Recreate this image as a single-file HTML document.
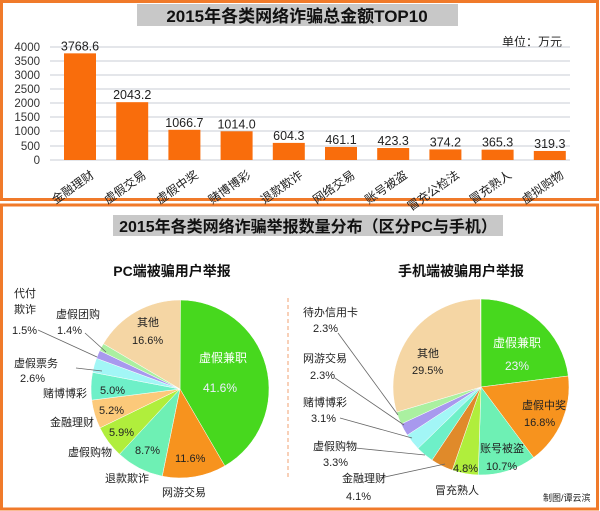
<!DOCTYPE html>
<html><head><meta charset="utf-8"><style>
body{margin:0;width:600px;height:511px;background:#fff;overflow:hidden}
svg{display:block}
text{font-family:"Liberation Sans","Noto Sans CJK SC",sans-serif}
</style></head><body>
<svg id="s" width="600" height="511" viewBox="0 0 600 511" xmlns="http://www.w3.org/2000/svg">
<rect x="1.5" y="1.5" width="596" height="198" fill="#fff" stroke="#f07a2a" stroke-width="3"/>
<rect x="1.5" y="205" width="596" height="304" fill="#fff" stroke="#f07a2a" stroke-width="3"/>
<!-- top chart -->
<rect x="137" y="4" width="321" height="22" fill="#c8c8c8"/>
<text x="297" y="22" font-size="17" font-weight="bold" text-anchor="middle" fill="#111">2015年各类网络诈骗总金额TOP10</text>
<text x="532" y="46" font-size="12" text-anchor="middle" fill="#222">单位：万元</text>
<g stroke="#c9ccd6" stroke-width="1">
<line x1="50" y1="47" x2="570" y2="47"/><line x1="50" y1="61" x2="570" y2="61"/><line x1="50" y1="75" x2="570" y2="75"/><line x1="50" y1="89" x2="570" y2="89"/><line x1="50" y1="103" x2="570" y2="103"/><line x1="50" y1="117" x2="570" y2="117"/><line x1="50" y1="131" x2="570" y2="131"/><line x1="50" y1="146" x2="570" y2="146"/><line x1="50" y1="160" x2="570" y2="160"/>
</g>
<g font-size="11.5" text-anchor="end" fill="#333">
<text x="40" y="51">4000</text><text x="40" y="65">3500</text><text x="40" y="79">3000</text><text x="40" y="93">2500</text><text x="40" y="107">2000</text><text x="40" y="121">1500</text><text x="40" y="135">1000</text><text x="40" y="150">500</text><text x="40" y="164">0</text>
</g>
<g id="bars" fill="#f96d0c"></g>
<g id="vals" font-size="12.5" text-anchor="middle" fill="#222"></g>
<g id="cats" font-size="12" text-anchor="end" fill="#222"></g>
<!-- bottom -->
<rect x="113" y="215" width="390" height="21" fill="#c8c8c8"/>
<text x="308" y="232" font-size="16" font-weight="bold" text-anchor="middle" fill="#111">2015年各类网络诈骗举报数量分布（区分PC与手机）</text>
<text x="172" y="276" font-size="14" font-weight="bold" text-anchor="middle" fill="#111">PC端被骗用户举报</text>
<text x="461" y="276" font-size="14" font-weight="bold" text-anchor="middle" fill="#111">手机端被骗用户举报</text>
<line x1="288" y1="298" x2="288" y2="480" stroke="#f0a070" stroke-dasharray="4,3"/>
<g id="pies"></g>
<g stroke="#666" stroke-width="0.8">
<line x1="38" y1="330" x2="97" y2="357"/><line x1="85" y1="333" x2="106" y2="352"/><line x1="76" y1="368" x2="102" y2="371"/>
<line x1="338" y1="333" x2="398" y2="415"/><line x1="335" y1="378" x2="404" y2="425"/><line x1="340" y1="418" x2="412" y2="438"/><line x1="355" y1="448" x2="425" y2="455"/><line x1="380" y1="478" x2="445" y2="464"/>
</g>
<g font-size="11" fill="#222">
<text x="14" y="297">代付</text><text x="14" y="313">欺诈</text><text x="12" y="334">1.5%</text>
<text x="56" y="318">虚假团购</text><text x="57" y="334">1.4%</text>
<text x="137" y="326">其他</text><text x="132" y="344">16.6%</text>
<text x="14" y="367">虚假票务</text><text x="20" y="382">2.6%</text>
<text x="43" y="397">赌博博彩</text><text x="100" y="394">5.0%</text>
<text x="99" y="414">5.2%</text><text x="50" y="426">金融理财</text>
<text x="109" y="436">5.9%</text><text x="68" y="456">虚假购物</text>
<text x="135" y="454">8.7%</text><text x="175" y="462">11.6%</text>
<text x="105" y="482">退款欺诈</text><text x="162" y="496">网游交易</text>
<text x="199" y="362" font-size="12" fill="#fff">虚假兼职</text><text x="203" y="392" font-size="12" fill="#eef">41.6%</text>
<text x="303" y="316">待办信用卡</text><text x="313" y="332">2.3%</text>
<text x="303" y="362">网游交易</text><text x="310" y="379">2.3%</text>
<text x="303" y="406">赌博博彩</text><text x="311" y="422">3.1%</text>
<text x="313" y="450">虚假购物</text><text x="323" y="466">3.3%</text>
<text x="342" y="482">金融理财</text><text x="346" y="500">4.1%</text>
<text x="435" y="494">冒充熟人</text>
<text x="417" y="357">其他</text><text x="412" y="374">29.5%</text>
<text x="493" y="347" font-size="12" fill="#fff">虚假兼职</text><text x="505" y="370" font-size="12" fill="#eef">23%</text>
<text x="522" y="409">虚假中奖</text><text x="524" y="426">16.8%</text>
<text x="480" y="452">账号被盗</text><text x="486" y="470">10.7%</text><text x="453" y="472">4.8%</text>
<text x="543" y="501" font-size="9">制图/谭云滨</text>
</g>
</svg>
<script>
var NS="http://www.w3.org/2000/svg";
function el(p,t,a){var e=document.createElementNS(NS,t);for(var k in a)e.setAttribute(k,a[k]);p.appendChild(e);return e;}
var vals=[3768.6,2043.2,1066.7,1014.0,604.3,461.1,423.3,374.2,365.3,319.3];
var cats=["金融理财","虚假交易","虚假中奖","赌博博彩","退款欺诈","网络交易","账号被盗","冒充公检法","冒充熟人","虚拟购物"];
var B=document.getElementById("bars"),V=document.getElementById("vals"),C=document.getElementById("cats");
vals.forEach(function(v,i){var cx=80+i*52.2,h=v*0.0283;
el(B,"rect",{x:cx-16,y:160-h,width:32,height:h});
el(V,"text",{x:cx,y:157-h}).textContent=v.toFixed(1);
el(C,"text",{x:cx+10,y:170,transform:"rotate(-35 "+(cx+10)+" 170)",dy:"0.7em"}).textContent=cats[i];});
var P=document.getElementById("pies");
function pie(cx,cy,r,d){var a=0;d.forEach(function(s){var a2=a+s[0]/100*2*Math.PI;
var x1=cx+r*Math.sin(a),y1=cy-r*Math.cos(a),x2=cx+r*Math.sin(a2),y2=cy-r*Math.cos(a2);
el(P,"path",{d:"M"+cx+","+cy+"L"+x1+","+y1+"A"+r+","+r+" 0 "+((a2-a)>Math.PI?1:0)+" 1 "+x2+","+y2+"Z",fill:s[1],stroke:"#fff","stroke-width":0.5});a=a2;});}
pie(180,389,89,[[41.6,"#47d81e"],[11.6,"#f7931e"],[8.7,"#6ef0b4"],[5.9,"#b0ee3c"],[5.2,"#fcc97a"],[5.0,"#6ef0c8"],[2.6,"#a2f6f6"],[1.5,"#a899ee"],[1.4,"#aaf0a0"],[16.6,"#f5d6a4"]]);
pie(481,387,88,[[23,"#47d81e"],[16.8,"#f7931e"],[10.7,"#6ef0b4"],[4.8,"#b0ee3c"],[4.1,"#e08a2a"],[3.3,"#6ef0c8"],[3.1,"#a2f6f6"],[2.3,"#a899ee"],[2.3,"#aaf0a0"],[29.5,"#f5d6a4"]]);
</script>
</body></html>
